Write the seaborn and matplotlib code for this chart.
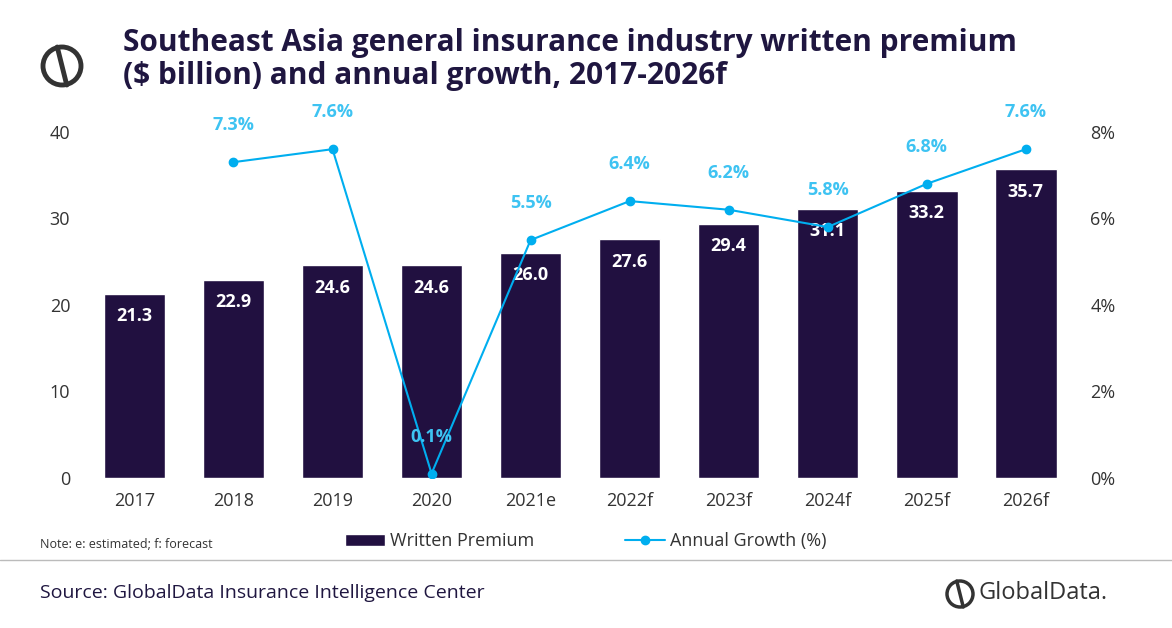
import matplotlib.pyplot as plt
import matplotlib.patches as mpatches
import seaborn as sns
import numpy as np
import pandas as pd

years = ['2017', '2018', '2019', '2020', '2021e', '2022f', '2023f', '2024f', '2025f', '2026f']
premium = [21.3, 22.9, 24.6, 24.6, 26.0, 27.6, 29.4, 31.1, 33.2, 35.7]
growth = [np.nan, 7.3, 7.6, 0.1, 5.5, 6.4, 6.2, 5.8, 6.8, 7.6]

sns.set_style('white')
plt.rcParams['font.family'] = ['Open Sans', 'DejaVu Sans']

bar_col = '#211040'
line_col = '#00AEEF'
lab_col = '#3EC3F2'
txt_col = '#333333'

fig = plt.figure(figsize=(11.72, 6.28), dpi=100)
ax = fig.add_axes([0.064, 0.239, 0.862, 0.551])
df = pd.DataFrame({'year': years, 'premium': premium, 'growth': growth})
sns.barplot(data=df, x='year', y='premium', color=bar_col, width=0.62, ax=ax,
            saturation=1, label='Written Premium')
if ax.get_legend():
    ax.get_legend().remove()
ax.set_ylim(0, 40)
ax.set_yticks([0, 10, 20, 30, 40])
ax.set_xlabel('')
ax.set_ylabel('')
for i, v in enumerate(premium):
    ax.text(i, v - 2.6, f'{v:.1f}', ha='center', va='center', color='white',
            fontsize=13, fontweight='bold')

ax2 = ax.twinx()
x = np.arange(len(years))
ax2.plot(x, growth, color=line_col, lw=1.5, marker='o', ms=6, label='Annual Growth (%)')
ax2.set_ylim(0, 8)
ax2.set_yticks([0, 2, 4, 6, 8])
ax2.set_yticklabels([f'{t}%' for t in range(0, 9, 2)])
for i, g in enumerate(growth):
    if not np.isnan(g):
        ax2.text(i, g + 0.85, f'{g:.1f}%', ha='center', va='center', color=lab_col,
                 fontsize=13, fontweight='bold')

for a in (ax, ax2):
    for s in a.spines.values():
        s.set_visible(False)
    a.tick_params(length=0, labelsize=13, colors=txt_col)
ax.tick_params(axis='x', pad=10)
ax.set_xlim(-0.6, 9.6)

h1, l1 = ax.get_legend_handles_labels()
h2, l2 = ax2.get_legend_handles_labels()
fig.legend(h1 + h2, l1 + l2, loc='center', bbox_to_anchor=(0.5, 0.138), ncol=2,
           frameon=False, fontsize=13, labelcolor=txt_col, columnspacing=5,
           handlelength=2.2, handletextpad=0.3)

fig.text(0.105, 0.905, 'Southeast Asia general insurance industry written premium\n($ billion) and annual growth, 2017-2026f',
         fontsize=21.5, fontweight='bold', color='#1F1640', va='center', linespacing=1.15)
fig.text(0.034, 0.127, 'Note: e: estimated; f: forecast', fontsize=9, color=txt_col)
fig.add_artist(plt.Line2D([0, 1], [0.108, 0.108], color='#BBBBBB', lw=1))
fig.text(0.034, 0.055, 'Source: GlobalData Insurance Intelligence Center', fontsize=14,
         color='#1F1640', va='center')

# logos
def logo(cx, cy, r, lw):
    c = mpatches.Circle((cx, cy), r, transform=fig.dpi_scale_trans, fill=False,
                        ec='#333333', lw=lw)
    fig.add_artist(c)
    fig.add_artist(plt.Line2D([cx - r * 0.25, cx + r * 0.25], [cy + r * 1.0, cy - r * 1.0],
                              transform=fig.dpi_scale_trans, color='#333333', lw=lw))

logo(0.62, 5.62, 0.19, 3.5)
logo(9.6, 0.34, 0.13, 2.5)
fig.text(0.835, 0.055, 'GlobalData.', fontsize=17, color='#333333', va='center')

fig.savefig('out.png', dpi=100)
